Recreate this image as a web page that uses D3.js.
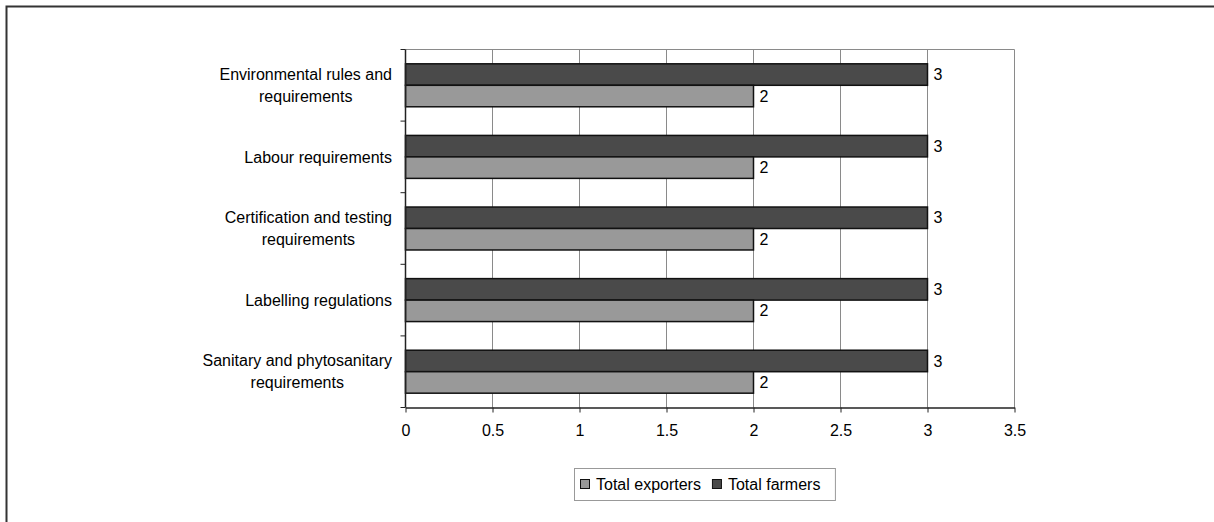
<!DOCTYPE html>
<html>
<head>
<meta charset="utf-8">
<script src="https://cdn.jsdelivr.net/npm/d3@7"></script>
<style>
  html, body { margin: 0; padding: 0; background: #fff; }
  svg { display: block; font-family: "Liberation Sans", Arial, sans-serif; }
</style>
</head>
<body>
<svg id="chart" width="1214" height="522"></svg>
<script>
// Barrier categories, listed top to bottom
const categories = [
  "Environmental rules and\nrequirements",
  "Labour requirements",
  "Certification and testing\nrequirements",
  "Labelling regulations",
  "Sanitary and phytosanitary\nrequirements"
];
const seriesNames = ["Total farmers", "Total exporters"];
const farmers = [3, 3, 3, 3, 3];
const exporters = [2, 2, 2, 2, 2];
const xTicks = [0, 0.5, 1, 1.5, 2, 2.5, 3, 3.5];
const legendOrder = ["Total exporters", "Total farmers"];

const colors = { "Total farmers": "#4a4a4a", "Total exporters": "#999999" };
const values = { "Total farmers": farmers, "Total exporters": exporters };
const FS = 16;

const svg = d3.select("#chart");

// Outer frame (open to the right and bottom)
svg.append("rect")
  .attr("x", 6.5).attr("y", 6.5)
  .attr("width", 1300).attr("height", 600)
  .attr("fill", "none").attr("stroke", "#333").attr("stroke-width", 2);

const plot = { left: 405.5, right: 1014.5, top: 49.5, bottom: 407.5 };

const x = d3.scaleLinear().domain([0, 3.5]).range([plot.left, plot.right]);
const y = d3.scaleBand().domain(categories).range([plot.top, plot.bottom])
  .paddingInner(0.4).paddingOuter(0.2);
const ySub = d3.scaleBand().domain(seriesNames).range([0, y.bandwidth()]);

// Vertical gridlines
svg.append("g").selectAll("line")
  .data(xTicks.slice(1))
  .join("line")
  .attr("x1", d => x(d)).attr("x2", d => x(d))
  .attr("y1", plot.top).attr("y2", plot.bottom)
  .attr("stroke", "#8a8a8a").attr("stroke-width", 1);

// Plot frame top edge
svg.append("line")
  .attr("x1", plot.left).attr("x2", plot.right)
  .attr("y1", plot.top).attr("y2", plot.top)
  .attr("stroke", "#8a8a8a").attr("stroke-width", 1);

// Bars
const groups = svg.append("g").selectAll("g")
  .data(categories)
  .join("g")
  .attr("transform", d => `translate(0,${y(d)})`);

groups.selectAll("rect")
  .data((d, i) => seriesNames.map(s => ({ s, v: values[s][i] })))
  .join("rect")
  .attr("x", x(0))
  .attr("y", d => ySub(d.s))
  .attr("width", d => x(d.v) - x(0))
  .attr("height", ySub.bandwidth())
  .attr("fill", d => colors[d.s])
  .attr("stroke", "#111").attr("stroke-width", 1.5);

groups.selectAll("text")
  .data((d, i) => seriesNames.map(s => ({ s, v: values[s][i] })))
  .join("text")
  .attr("x", d => x(d.v) + 6)
  .attr("y", d => ySub(d.s) + ySub.bandwidth() / 2)
  .attr("dy", "0.35em")
  .attr("font-size", FS)
  .attr("fill", "#000")
  .text(d => d.v);

// X axis
const xAxis = d3.axisBottom(x).tickValues(xTicks).tickSize(5).tickSizeOuter(0)
  .tickFormat(d3.format("~g"));
const gx = svg.append("g").attr("transform", `translate(0,${plot.bottom})`).call(xAxis);
gx.select(".domain").attr("stroke", "#222").attr("stroke-width", 1.5);
gx.selectAll(".tick line").attr("stroke", "#222");
gx.selectAll(".tick text").attr("font-size", FS).attr("fill", "#000")
  .attr("font-family", "Liberation Sans, Arial, sans-serif").attr("dy", "1.3em");

// Y axis with ticks at category boundaries
const bounds = categories.map(c => y(c) - y.step() * y.paddingInner() / 2);
bounds[0] = plot.top;
bounds.push(plot.bottom);
svg.append("line")
  .attr("x1", plot.left).attr("x2", plot.left)
  .attr("y1", plot.top).attr("y2", plot.bottom)
  .attr("stroke", "#222").attr("stroke-width", 1.5);
svg.append("g").selectAll("line")
  .data(bounds)
  .join("line")
  .attr("x1", plot.left - 5).attr("x2", plot.left)
  .attr("y1", d => d).attr("y2", d => d)
  .attr("stroke", "#222");

// Category labels: each block centred, block right-aligned near the axis
const labelRight = 392;
const lineH = 22;
categories.forEach(c => {
  const lines = c.split("\n");
  const g = svg.append("g");
  const texts = lines.map((ln, i) => g.append("text")
    .attr("font-size", FS).attr("fill", "#000")
    .attr("text-anchor", "middle")
    .attr("y", y(c) + y.bandwidth() / 2 + (i - (lines.length - 1) / 2) * lineH)
    .attr("dy", "0.35em")
    .text(ln));
  const w = d3.max(texts, t => t.node().getComputedTextLength());
  texts.forEach(t => t.attr("x", labelRight - w / 2));
});

// Legend
const legend = svg.append("g");
const legBox = legend.append("rect")
  .attr("x", 574.5).attr("y", 468.5).attr("height", 32)
  .attr("fill", "#fff").attr("stroke", "#999").attr("stroke-width", 1);
let lx = 580;
let textEnd = lx;
legendOrder.forEach(name => {
  legend.append("rect")
    .attr("x", lx + 0.5).attr("y", 479.5).attr("width", 9).attr("height", 9)
    .attr("fill", colors[name]).attr("stroke", "#111").attr("stroke-width", 1);
  const t = legend.append("text")
    .attr("x", lx + 16).attr("y", 484).attr("dy", "0.35em")
    .attr("font-size", FS).attr("fill", "#000")
    .text(name);
  textEnd = lx + 16 + t.node().getComputedTextLength();
  lx = textEnd + 11;
});
legBox.attr("width", textEnd + 15 - 574.5);
</script>
</body>
</html>
